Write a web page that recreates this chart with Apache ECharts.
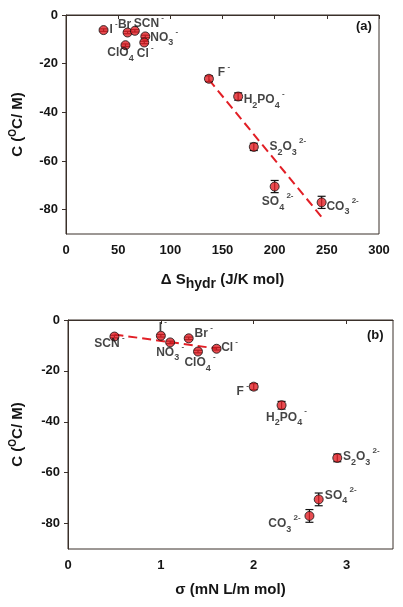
<!DOCTYPE html>
<html><head><meta charset="utf-8">
<script src="https://cdn.jsdelivr.net/npm/echarts@6/dist/echarts.min.js"></script>
<style>html,body{margin:0;padding:0;background:#fff}#c{width:403px;height:607px}</style>
</head><body><div id="c"></div>
<script>
// ---- data ----
const ions   = ['I','Br','SCN','NO3','Cl','ClO4','F','H2PO4','S2O3','SO4','CO3'];
const charge = ['-','-','-','-','-','-','-','-','2-','2-','2-'];
const dS     = [36, 59, 66, 76, 75, 57, 137, 165, 180, 200, 245];   // J/K mol
const sigma  = [1.0, 1.3, 0.5, 1.1, 1.6, 1.4, 2.0, 2.3, 2.9, 2.7, 2.6]; // mN L/m mol
const Cval   = [-6.2, -7.2, -6.5, -8.8, -11.3, -12.4, -26.2, -33.5, -54.2, -70.5, -77.0];
const Cerr   = [0.5, 0.5, 0.5, 0.5, 0.5, 0.5, 1.2, 1.5, 1.5, 2.5, 2.5];
const trendAx = [137, 245];
const trendAy = [-26.6, -83.0];
const trendBx = [0.5, 1.6];
const trendBy = [-5.7, -11.2];
const yTicks  = [0, -20, -40, -60, -80];
const xTicksA = [0, 50, 100, 150, 200, 250, 300];
const xTicksB = [0, 1, 2, 3];

// ---- label placement (style only) ----
const noChargeA = ['Br', 'ClO4'];
const offA = {I:[10,0],Br:[-3,-8],SCN:[14,-7],NO3:[19,1],Cl:[1,11],ClO4:[-5,8],F:[15,-6],H2PO4:[26,3],S2O3:[34,0],SO4:[3,15],CO3:[21,4]};
const offB = {I:[2,-8],Br:[15,-5],SCN:[-5,7],NO3:[0,10],Cl:[13,-1],ClO4:[2,11],F:[-11,5],H2PO4:[5,12],S2O3:[24,-1],SO4:[22,-4],CO3:[-25,8]};

const FF = '"Liberation Sans", Arial, sans-serif';
const TXT = '#151515';
const AX = '#3a302a';
const RED = '#e21f26';

function richName(ion, ch) {
  let s = '';
  const parts = ion.match(/[A-Za-z]+|\d+/g);
  parts.forEach(p => { s += /\d/.test(p) ? '{sub|' + p + '}' : '{b|' + p + '}'; });
  if (ch) s += '{sup| ' + ch + '}';
  return s;
}
const rich = {
  b:   {fontFamily: FF, fontWeight: 'bold', fontSize: 12, color: TXT, lineHeight: 20, verticalAlign: 'middle'},
  sub: {fontFamily: FF, fontWeight: 'bold', fontSize: 9, color: TXT, lineHeight: 9, verticalAlign: 'bottom'},
  sup: {fontFamily: FF, fontWeight: 'bold', fontSize: 8, color: TXT, lineHeight: 8, verticalAlign: 'top'}
};

function scatterData(xs, offs, hideCharge) {
  return ions.map((ion, i) => ({
    value: [xs[i], Cval[i]],
    name: ion,
    label: {
      show: true, position: 'inside', offset: offs[ion],
      formatter: richName(ion, hideCharge && hideCharge.includes(ion) ? '' : charge[i]),
      rich: rich
    }
  }));
}
function errData(xs) { return ions.map((_, i) => [xs[i], Cval[i], Cerr[i]]); }
function errRender(params, api) {
  const x = api.value(0), y = api.value(1), e = api.value(2);
  const p1 = api.coord([x, y + e]), p2 = api.coord([x, y - e]);
  const w = 4, st = {stroke: '#111', lineWidth: 1.2};
  return {type: 'group', children: [
    {type: 'line', shape: {x1: p1[0], y1: p1[1], x2: p2[0], y2: p2[1]}, style: st},
    {type: 'line', shape: {x1: p1[0]-w, y1: p1[1], x2: p1[0]+w, y2: p1[1]}, style: st},
    {type: 'line', shape: {x1: p2[0]-w, y1: p2[1], x2: p2[0]+w, y2: p2[1]}, style: st}
  ]};
}

const axLabel = {fontFamily: FF, fontWeight: 'bold', fontSize: 13, color: TXT};
function yAxis(gi, gap) {
  return {
    type: 'value', gridIndex: gi, min: -90, max: 0,
    name: '{t|C (}{s|O}{t|C/ M)}', nameLocation: 'middle', nameGap: gap,
    nameTextStyle: {rich: {
      t: {fontFamily: FF, fontWeight: 'bold', fontSize: 15, color: TXT, lineHeight: 20, verticalAlign: 'middle'},
      s: {fontFamily: FF, fontWeight: 'bold', fontSize: 10, color: TXT, lineHeight: 10, verticalAlign: 'top'}
    }},
    axisLine: {show: true, lineStyle: {color: AX, width: 1}},
    axisTick: {show: true, length: 4, lineStyle: {color: AX}, customValues: yTicks},
    axisLabel: Object.assign({margin: 8, customValues: yTicks}, axLabel),
    splitLine: {show: false}
  };
}

const option = {
  animation: false,
  backgroundColor: '#fff',
  grid: [
    {left: 65, top: 15, width: 314, height: 219, show: true, borderColor: AX, borderWidth: 1, backgroundColor: 'transparent'},
    {left: 68, top: 320, width: 325, height: 229, show: true, borderColor: AX, borderWidth: 1, backgroundColor: 'transparent'}
  ],
  xAxis: [
    {type: 'value', gridIndex: 0, min: 0, max: 300,
     name: '{t|Δ S}{h|hydr}{t| (J/K mol)}', nameLocation: 'middle', nameGap: 35,
     nameTextStyle: {rich: {
       t: {fontFamily: FF, fontWeight: 'bold', fontSize: 15, color: TXT, lineHeight: 22, verticalAlign: 'middle'},
       h: {fontFamily: FF, fontWeight: 'bold', fontSize: 14, color: TXT, lineHeight: 17, verticalAlign: 'bottom'}
     }},
     axisLine: {show: true, lineStyle: {color: AX}},
     axisTick: {show: true, length: 4, lineStyle: {color: AX}, customValues: xTicksA},
     axisLabel: Object.assign({margin: 10, customValues: xTicksA}, axLabel),
     splitLine: {show: false}},
    {type: 'value', gridIndex: 1, min: 0, max: 3.5,
     name: 'σ (mN L/m mol)', nameLocation: 'middle', nameGap: 30,
     nameTextStyle: {fontFamily: FF, fontWeight: 'bold', fontSize: 15, color: TXT, lineHeight: 22},
     axisLine: {show: true, lineStyle: {color: AX}},
     axisTick: {show: true, length: 4, lineStyle: {color: AX}, customValues: xTicksB},
     axisLabel: Object.assign({margin: 10, customValues: xTicksB}, axLabel),
     splitLine: {show: false}}
  ],
  yAxis: [yAxis(0, 38), yAxis(1, 40)],
  graphic: [
    {type: 'text', left: 356, top: 20, style: {text: '(a)', font: 'bold 13px ' + FF, fill: TXT}},
    {type: 'text', left: 367, top: 329, style: {text: '(b)', font: 'bold 13px ' + FF, fill: TXT}}
  ],
  series: [
    {type: 'line', xAxisIndex: 0, yAxisIndex: 0, data: trendAx.map((x, i) => [x, trendAy[i]]),
     symbol: 'none', lineStyle: {color: RED, width: 2, type: [9, 5]}, z: 1},
    {type: 'line', xAxisIndex: 1, yAxisIndex: 1, data: trendBx.map((x, i) => [x, trendBy[i]]),
     symbol: 'none', lineStyle: {color: RED, width: 2, type: [9, 5]}, z: 1},
    {type: 'custom', xAxisIndex: 0, yAxisIndex: 0, data: errData(dS), renderItem: errRender, z: 2},
    {type: 'custom', xAxisIndex: 1, yAxisIndex: 1, data: errData(sigma), renderItem: errRender, z: 2},
    {type: 'scatter', xAxisIndex: 0, yAxisIndex: 0, data: scatterData(dS, offA, noChargeA),
     symbol: 'circle', symbolSize: 9, itemStyle: {color: RED, borderColor: '#111', borderWidth: 1}, z: 3},
    {type: 'scatter', xAxisIndex: 1, yAxisIndex: 1, data: scatterData(sigma, offB, null),
     symbol: 'circle', symbolSize: 9, itemStyle: {color: RED, borderColor: '#111', borderWidth: 1}, z: 3}
  ]
};
const chart = echarts.init(document.getElementById('c'), null, {renderer: 'canvas'});
chart.setOption(option);
</script></body></html>
